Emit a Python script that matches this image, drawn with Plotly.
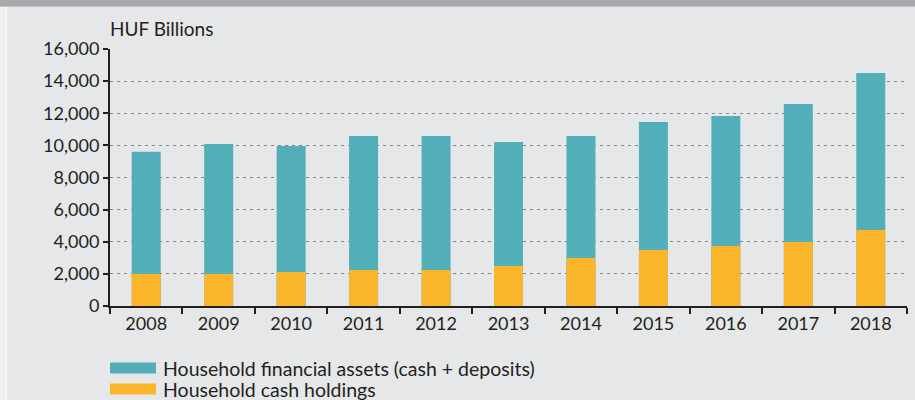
import plotly.graph_objects as go

years = ["2008", "2009", "2010", "2011", "2012", "2013", "2014", "2015", "2016", "2017", "2018"]
financial_assets = [9600, 10090, 9960, 10580, 10580, 10210, 10580, 11460, 11830, 12580, 14510]
cash_holdings = [2000, 2000, 2120, 2240, 2240, 2490, 2990, 3490, 3740, 3990, 4730]
y_ticks = [0, 2000, 4000, 6000, 8000, 10000, 12000, 14000, 16000]

name_fin = "Household financial assets (cash + deposits)"
name_cash = "Household cash holdings"
teal = "#52afba"
orange = "#fbb52b"
bg = "#e6e7e9"
txt = "#231f20"
font = "Lato"

W, H = 915, 400
L, R, T, B = 110, 8, 49, 94
PW, PH = W - L - R, H - T - B


def px_x(x):
    return (x - L) / PW


def px_y(y):
    return (H - B - y) / PH


fig = go.Figure()
fig.add_trace(go.Bar(x=years, y=financial_assets, name=name_fin, marker_color=teal,
                     marker_line_width=0, width=0.4))
fig.add_trace(go.Bar(x=years, y=cash_holdings, name=name_cash, marker_color=orange,
                     marker_line_width=0, width=0.4))

fig.update_layout(
    width=W, height=H,
    barmode="overlay",
    paper_bgcolor=bg, plot_bgcolor=bg,
    margin=dict(l=L, r=R, t=T, b=B),
    showlegend=False,
    font=dict(family=font, size=18, color=txt),
)
fig.update_yaxes(
    range=[0, 16000], tickvals=y_ticks, tickformat=",",
    showgrid=True, gridcolor="#858585", griddash="3px,4px", gridwidth=1,
    showline=True, linecolor=txt, linewidth=2,
    ticks="outside", ticklen=5, tickwidth=2, tickcolor=txt,
    zeroline=False, tickfont=dict(size=18, color=txt),
)
fig.update_xaxes(
    range=[-0.5, 10.5], type="category",
    showline=True, linecolor=txt, linewidth=2,
    ticks="outside", tickson="boundaries", ticklen=6, tickwidth=2, tickcolor=txt,
    showgrid=False, tickfont=dict(size=18, color=txt),
)

# left light strip
fig.add_shape(type="rect", xref="paper", yref="paper", x0=px_x(0), x1=px_x(6),
              y0=px_y(H), y1=px_y(0), line_width=0, fillcolor="#efeff0", layer="above")
fig.add_shape(type="rect", xref="paper", yref="paper", x0=px_x(6), x1=px_x(7),
              y0=px_y(H), y1=px_y(0), line_width=0, fillcolor="#fafafa", layer="above")
# top band
fig.add_shape(type="rect", xref="paper", yref="paper", x0=px_x(0), x1=px_x(W),
              y0=px_y(6), y1=px_y(0), line_width=0, fillcolor="#a8a9ac", layer="above")
fig.add_shape(type="rect", xref="paper", yref="paper", x0=px_x(0), x1=px_x(W),
              y0=px_y(7), y1=px_y(6), line_width=0, fillcolor="#c6c7c9", layer="above")

# HUF Billions label
fig.add_annotation(xref="paper", yref="paper", x=px_x(108), y=px_y(28), text="HUF Billions",
                   showarrow=False, xanchor="left", yanchor="middle", font=dict(size=19, color=txt))

# manual legend
for yc, col, name in [(368, teal, name_fin), (389, orange, name_cash)]:
    fig.add_shape(type="rect", xref="paper", yref="paper",
                  x0=px_x(110), x1=px_x(156), y0=px_y(yc + 5.5), y1=px_y(yc - 5.5),
                  line_width=0, fillcolor=col)
    fig.add_annotation(xref="paper", yref="paper", x=px_x(161), y=px_y(yc), text=name,
                       showarrow=False, xanchor="left", yanchor="middle",
                       font=dict(size=19.5, color=txt))

fig.write_html("out.html", config={"displayModeBar": False},
               post_script="document.body.style.margin='0px';")
